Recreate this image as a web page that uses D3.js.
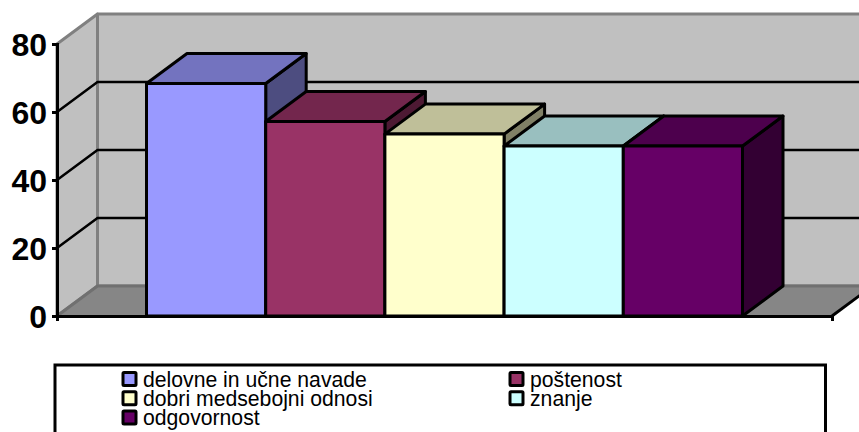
<!DOCTYPE html>
<html><head><meta charset="utf-8">
<style>html,body{margin:0;padding:0;background:#fff;overflow:hidden}svg{display:block}text{font-family:"Liberation Sans",Arial,sans-serif}</style>
<script src="https://cdn.jsdelivr.net/npm/d3@7"></script></head><body>
<script>
const seriesNames = ["delovne in učne navade","poštenost","dobri medsebojni odnosi","znanje","odgovornost"];
const seriesValues = [68.4,57.2,53.5,50,50];
const frontColors = ["#9999ff","#993366","#ffffcc","#ccffff","#660066"];
const topColors = ["#7373bf","#73264d","#bfbf99","#99bfbf","#4d004d"];
const sideColors = ["#4d4d80","#4d1933","#808066","#668080","#330033"];
const yTicks = [0,20,40,60,80];

const W=859,H=432,dx=40.5,dy=-30,SW=3;
const svg=d3.select("body").append("svg").attr("width",W).attr("height",H);
const y=d3.scaleLinear().domain([0,80]).range([316,44]);
const xCat=d3.scaleLinear().domain([0,1]).range([57,832]);
const xBar=d3.scaleBand().domain(seriesNames).range([146.5,742.5]);
const x0=xCat(0),x1=xCat(1),y0=y(0),yT=y(80);
const poly=(pts,fill,stroke,sw)=>svg.append("polygon").attr("points",pts.map(p=>p.join(",")).join(" "))
  .attr("fill",fill).attr("stroke",stroke).attr("stroke-width",sw).attr("stroke-linejoin","round");
// walls and floor
poly([[x0,y0],[x0+dx,y0+dy],[x0+dx,yT+dy],[x0,yT]],"#c0c0c0","#808080",SW);
poly([[x0+dx,y0+dy],[W+40,y0+dy],[W+40,yT+dy],[x0+dx,yT+dy]],"#c0c0c0","#808080",SW);
poly([[x0,y0],[x1,y0],[x1+dx,y0+dy],[x0+dx,y0+dy]],"#868686","none",0);
svg.append("path").attr("d",`M${x0},${y0}L${x0+dx},${y0+dy}L${W},${y0+dy}`).attr("fill","none").attr("stroke","#707070").attr("stroke-width",SW);
svg.append("path").attr("d",`M${x1},${y0}L${x1+dx},${y0+dy}`).attr("fill","none").attr("stroke","#000").attr("stroke-width",SW);
// gridlines
svg.append("g").selectAll("path").data(yTicks.filter(t=>t>0&&t<80)).join("path")
  .attr("d",t=>`M${x0},${y(t)}L${x0+dx},${y(t)+dy}L${W},${y(t)+dy}`)
  .attr("fill","none").attr("stroke","#000").attr("stroke-width",SW-0.5);
// bars, left to right so each front covers the previous side
const g=svg.append("g").attr("stroke","#000").attr("stroke-width",SW).attr("stroke-linejoin","round");
seriesNames.forEach((n,i)=>{
  const l=xBar(n),r=l+xBar.bandwidth(),t=y(seriesValues[i]);
  g.append("polygon").attr("points",`${r},${y0} ${r+dx},${y0+dy} ${r+dx},${t+dy} ${r},${t}`).attr("fill",sideColors[i]);
  g.append("polygon").attr("points",`${l},${t} ${l+dx},${t+dy} ${r+dx},${t+dy} ${r},${t}`).attr("fill",topColors[i]);
  g.append("rect").attr("x",l).attr("y",t).attr("width",r-l).attr("height",y0-t).attr("fill",frontColors[i]);
});
// axes
const yAxis=svg.append("g").attr("transform",`translate(${x0},0)`).call(d3.axisLeft(y).tickValues(yTicks).tickSize(5).tickPadding(5));
yAxis.selectAll(".domain").attr("stroke","#000").attr("stroke-width",SW);
yAxis.selectAll("line").attr("stroke","#000").attr("stroke-width",SW);
yAxis.selectAll("text").attr("font-family",'"Liberation Sans"').attr("font-size",32).attr("font-weight","bold").attr("fill","#000").attr("dy","0.36em");
const xAxis=svg.append("g").attr("transform",`translate(0,${y0})`).call(d3.axisBottom(xCat).tickValues([0,1]).tickSize(5).tickFormat(""));
xAxis.selectAll(".domain").attr("stroke","#000").attr("stroke-width",SW);
xAxis.selectAll("line").attr("stroke","#000").attr("stroke-width",SW);
// legend
svg.append("rect").attr("x",55).attr("y",365).attr("width",770.5).attr("height",80).attr("fill","#fff").attr("stroke","#000").attr("stroke-width",SW);
const colX=d3.scaleOrdinal().domain([0,1]).range([123,510]);
const rowY=d3.scaleLinear().domain([0,2]).range([372.5,411]);
const lg=svg.append("g").selectAll("g").data(seriesNames).join("g")
  .attr("transform",(d,i)=>`translate(${colX(i%2)},${rowY(Math.floor(i/2))})`);
lg.append("rect").attr("width",13).attr("height",13).attr("rx",1).attr("fill",(d,i)=>frontColors[i]).attr("stroke","#000").attr("stroke-width",SW);
lg.append("text").attr("x",20).attr("y",14).attr("font-size",21.2).attr("fill","#000").text(d=>d);
</script></body></html>
